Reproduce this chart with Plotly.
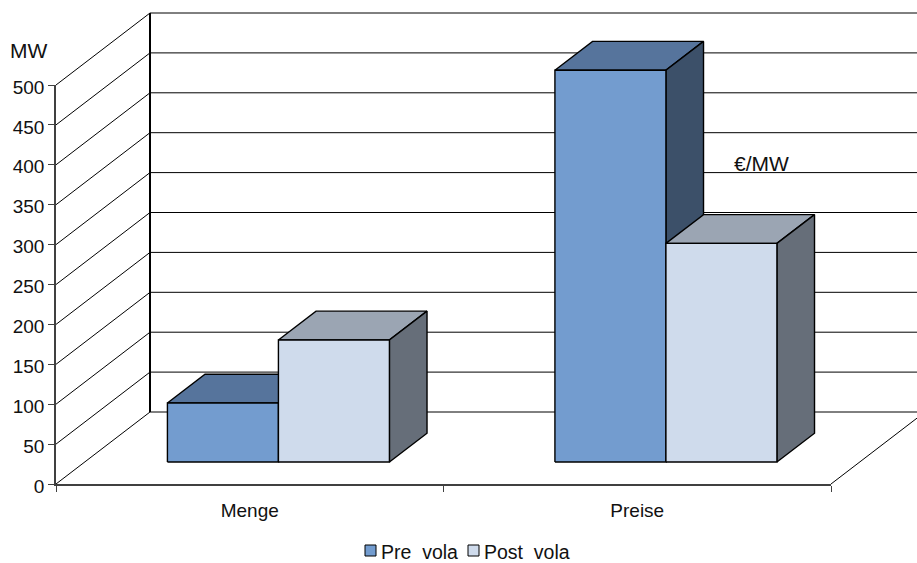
import plotly.graph_objects as go

# ---- data ----
categories = ["Menge", "Preise"]
series_names = ["Pre\u00a0\u00a0vola", "Post\u00a0\u00a0vola"]
pre_vola = [74, 491]
post_vola = [153, 274]
y_ticks = [0, 50, 100, 150, 200, 250, 300, 350, 400, 450, 500]

# ---- styling / oblique projection ----
W, H = 917, 563
X0, Y0 = 56, 484            # pixel position of the axes origin
PX_X, PX_Y = 387.5, 0.798   # pixels per category, pixels per value unit
DEPTH_X, DEPTH_Y = 94 / PX_X, 72 / PX_Y   # shift of the back wall, in axis units
D_FRONT, D_BACK = 0.305, 0.705            # depth span of bars
BAR_W = 111 / PX_X
front_cols = ["#739CCF", "#CFDBEC"]
top_cols = ["#56749C", "#9BA5B3"]
side_cols = ["#3C5069", "#666E79"]
n_cat = len(categories)


def proj(x, v, d=0.0):
    return x + d * DEPTH_X, v + d * DEPTH_Y


def paper_x(px):
    return px / W


def paper_y(py):
    return 1 - py / H


fig = go.Figure()


def line(xs, ys, color="#000000", width=1.0):
    fig.add_trace(go.Scatter(x=xs, y=ys, mode="lines", showlegend=False, hoverinfo="skip",
                             line=dict(color=color, width=width)))


def face(corners, color, name):
    pts = [proj(*c) for c in corners]
    pts.append(pts[0])
    fig.add_trace(go.Scatter(x=[p[0] for p in pts], y=[p[1] for p in pts], mode="lines",
                             fill="toself", fillcolor=color, showlegend=False,
                             name=name, line=dict(color="#000000", width=1.4)))


# back wall grid and side wall
for t in y_ticks:
    a, b = proj(0, t, 1), proj(n_cat, t, 1)
    line([a[0], b[0]], [a[1], b[1]])
    c = proj(0, t, 0)
    line([c[0], a[0]], [c[1], a[1]])
a, b = proj(0, y_ticks[0], 1), proj(0, y_ticks[-1], 1)
line([a[0], b[0]], [a[1], b[1]], width=2)
# floor right edge
a, b = proj(n_cat, 0, 0), proj(n_cat, 0, 1)
line([a[0], b[0]], [a[1], b[1]])

# bars
for i, cat in enumerate(categories):
    for s, vals in enumerate([pre_vola, post_vola]):
        v = vals[i]
        left = i + 0.5 - BAR_W + s * BAR_W
        right = left + BAR_W
        label = f"{series_names[s]} {cat}"
        face([(left, v, D_FRONT), (right, v, D_FRONT), (right, v, D_BACK), (left, v, D_BACK)], top_cols[s], label)
        face([(right, 0, D_FRONT), (right, 0, D_BACK), (right, v, D_BACK), (right, v, D_FRONT)], side_cols[s], label)
        face([(left, 0, D_FRONT), (right, 0, D_FRONT), (right, v, D_FRONT), (left, v, D_FRONT)], front_cols[s], label)

# empty trace that brings the visible front axes in
fig.add_trace(go.Scatter(x=[None], y=[None], xaxis="x2", yaxis="y2", showlegend=False, hoverinfo="skip"))

FONT = dict(family="Liberation Sans, Arial, sans-serif", size=19, color="#111111")
UNIT_FONT = dict(FONT, size=21)
LEGEND_FONT = dict(FONT, size=19.5)

annotations = [
    dict(text="MW", x=paper_x(28), y=paper_y(51), font=UNIT_FONT),
    dict(text="\u20ac/MW", x=paper_x(761), y=paper_y(164), font=UNIT_FONT),
    dict(text=series_names[0], x=paper_x(381), y=paper_y(551.5), xanchor="left", font=LEGEND_FONT),
    dict(text=series_names[1], x=paper_x(484), y=paper_y(551.5), xanchor="left", font=LEGEND_FONT),
]
for an in annotations:
    an.update(xref="paper", yref="paper", showarrow=False, borderpad=0, borderwidth=0)
    an.setdefault("xanchor", "center")
    an["yanchor"] = "middle"

shapes = []
for s, (x1, x2) in enumerate([(365, 376), (468, 479)]):
    shapes.append(dict(type="rect", xref="paper", yref="paper", x0=paper_x(x1), x1=paper_x(x2),
                       y0=paper_y(556), y1=paper_y(545), fillcolor=front_cols[s],
                       line=dict(color="#000000", width=1)))

fig.update_layout(
    template="none",
    width=W, height=H, autosize=False,
    margin=dict(l=0, r=0, t=0, b=0, pad=0),
    paper_bgcolor="#FFFFFF", plot_bgcolor="rgba(0,0,0,0)",
    showlegend=False, font=FONT,
    annotations=annotations, shapes=shapes,
    # full-page axes that carry the projected marks
    xaxis=dict(range=[-X0 / PX_X, (W - X0) / PX_X], domain=[0, 1], visible=False, fixedrange=True, automargin=False),
    yaxis=dict(range=[-(H - Y0) / PX_Y, Y0 / PX_Y], domain=[0, 1], visible=False, fixedrange=True, automargin=False),
    # visible front axes
    xaxis2=dict(range=[0, n_cat], domain=[paper_x(X0), paper_x(X0 + n_cat * PX_X)], anchor="y2",
                automargin=False,
                showgrid=False, zeroline=False, showline=True, linecolor="#404040", linewidth=2,
                tickmode="array", tickvals=[i + 0.5 for i in range(n_cat)], ticktext=categories,
                ticks="", ticklabelstandoff=8, tickfont=FONT,
                minor=dict(tickmode="array", tickvals=list(range(n_cat + 1)), ticks="outside",
                           ticklen=6, tickcolor="#404040", tickwidth=1)),
    yaxis2=dict(range=[y_ticks[0], y_ticks[-1]], domain=[paper_y(Y0), paper_y(Y0 - y_ticks[-1] * PX_Y)],
                automargin=False,
                anchor="x2", showgrid=False, zeroline=False, showline=True, linecolor="#404040",
                linewidth=1.5, tickmode="array", tickvals=y_ticks, ticks="outside", ticklen=6,
                ticklabelshift=2,
                tickcolor="#404040", tickwidth=1, tickfont=FONT),
)

fig.write_html("out.html", config={"displayModeBar": False},
               post_script="document.body.style.margin='0';")
